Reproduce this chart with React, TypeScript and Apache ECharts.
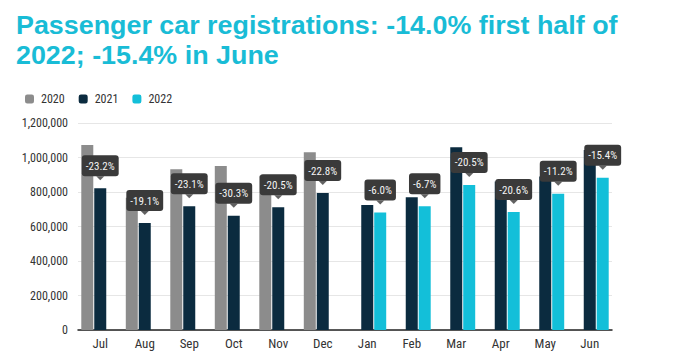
import React, { useEffect, useRef } from "react";
import * as echarts from "echarts";

const months = ["Jul", "Aug", "Sep", "Oct", "Nov", "Dec", "Jan", "Feb", "Mar", "Apr", "May", "Jun"];
const values2020 = [1072000, 767000, 932000, 951000, 894000, 1030000, null, null, null, null, null, null];
const values2021 = [822000, 620000, 717000, 663000, 711000, 794000, 725000, 769000, 1059000, 861000, 890000, 1044000];
const values2022 = [null, null, null, null, null, null, 681000, 717000, 841000, 684000, 790000, 883000];
const changes = ["-23.2%", "-19.1%", "-23.1%", "-30.3%", "-20.5%", "-22.8%", "-6.0%", "-6.7%", "-20.5%", "-20.6%", "-11.2%", "-15.4%"];
const yTicks = [0, 200000, 400000, 600000, 800000, 1000000, 1200000];
const titleLines = ["Passenger car registrations: -14.0% first half of", "2022; -15.4% in June"];

const TEXT_FONT = "'Roboto Condensed', 'Liberation Sans Narrow', Roboto, sans-serif";
const CALLOUT = "#3a3a3a";

const calloutLabel = (show: boolean) => ({
  show,
  position: "top" as const,
  distance: 12,
  formatter: (p: any) => changes[p.dataIndex],
  backgroundColor: CALLOUT,
  color: "#f4f4f4",
  borderRadius: 3,
  padding: [5, 4, 4, 4],
  fontSize: 11,
  lineHeight: 12,
  fontFamily: TEXT_FONT,
});

export default function App() {
  const ref = useRef<HTMLDivElement>(null);
  useEffect(() => {
    if (!ref.current) return;
    const chart = echarts.init(ref.current, undefined, { renderer: "svg" });
    const pointerData = months.map((_, i) => ({
      value: i < 6 ? values2021[i] : values2022[i],
      symbolOffset: [i < 6 ? 0 : 13, -10],
    }));
    chart.setOption({
      animation: false,
      backgroundColor: "#ffffff",
      graphic: titleLines.map((t, i) => ({
        type: "text",
        x: 16,
        y: 25 + i * 30,
        scaleX: 1.075,
        style: {
          text: t,
          fontFamily: "'Liberation Sans', Arial, sans-serif",
          fontWeight: "bold",
          fontSize: 25,
          fill: "#19bcd6",
          verticalAlign: "middle",
        },
      })),
      legend: {
        left: 20,
        top: 88,
        itemWidth: 9,
        itemHeight: 9,
        itemGap: 14,
        icon: "roundRect",
        textStyle: { fontFamily: TEXT_FONT, fontSize: 12, color: "#333333", padding: [0, 0, 0, 2] },
        data: ["2020", "2021", "2022"],
      },
      grid: { left: 78, right: 65, top: 123, bottom: 27 },
      xAxis: {
        type: "category",
        data: months,
        axisTick: { show: false },
        axisLine: { lineStyle: { color: "#222222", width: 1.5 } },
        axisLabel: { fontFamily: TEXT_FONT, fontSize: 13, color: "#333333", margin: 7 },
      },
      yAxis: {
        type: "value",
        min: yTicks[0],
        max: yTicks[yTicks.length - 1],
        interval: yTicks[1] - yTicks[0],
        axisLine: { show: false },
        axisTick: { show: false },
        splitLine: { lineStyle: { color: "#e6e6e6", width: 1 } },
        axisLabel: {
          fontFamily: TEXT_FONT,
          fontSize: 12,
          color: "#333333",
          margin: 10,
          formatter: (v: number) => v.toLocaleString("en-US"),
        },
      },
      series: [
        {
          name: "2020",
          type: "bar",
          data: values2020,
          barWidth: 12,
          barGap: "8%",
          itemStyle: { color: "#8c8c8c" },
        },
        {
          name: "2021",
          type: "bar",
          data: values2021.map((v, i) => ({ value: v, label: calloutLabel(i < 6) })),
          barWidth: 12,
          barGap: "8%",
          itemStyle: { color: "#0b2b3f" },
          z: 3,
        },
        {
          name: "2022",
          type: "bar",
          data: values2022.map((v, i) => ({ value: v, label: calloutLabel(i >= 6) })),
          barWidth: 12,
          barGap: "8%",
          itemStyle: { color: "#13bfd9" },
          z: 3,
        },
        {
          name: "pointer",
          type: "scatter",
          data: pointerData,
          symbol: "triangle",
          symbolRotate: 180,
          symbolSize: [8, 4],
          itemStyle: { color: CALLOUT },
          silent: true,
          z: 5,
        },
      ],
    });
    return () => chart.dispose();
  }, []);
  return <div ref={ref} style={{ width: 677, height: 357, position: "absolute", left: 0, top: 0 }} />;
}
